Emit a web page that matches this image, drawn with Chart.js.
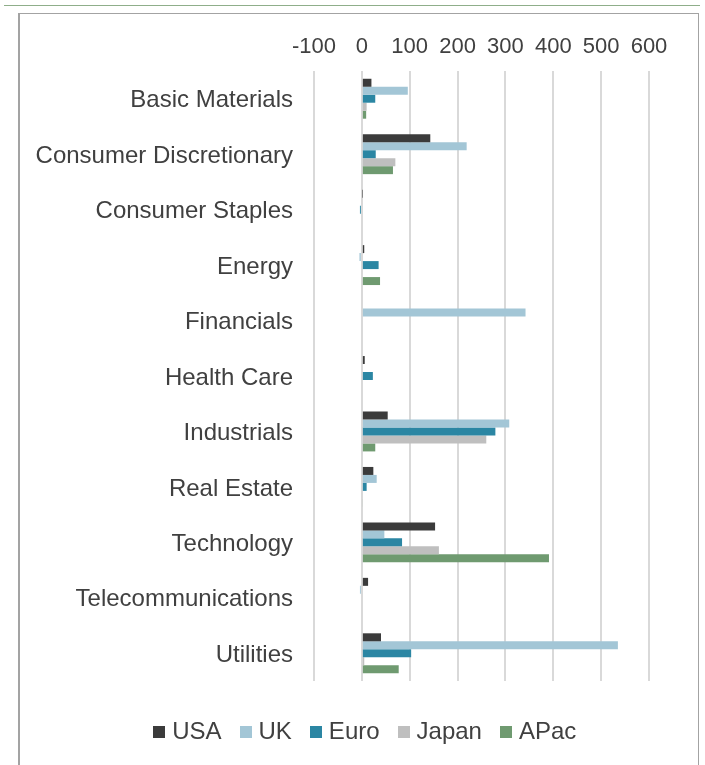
<!DOCTYPE html>
<html>
<head>
<meta charset="utf-8">
<title>Sector contributions by region</title>
<script src="https://cdn.jsdelivr.net/npm/chart.js@4"></script>
<style>
  html, body { margin: 0; padding: 0; background: #ffffff; }
  body { width: 705px; height: 765px; position: relative; overflow: hidden; }
  #rule { position: absolute; left: 4px; top: 5px; width: 696px; height: 1px; background: #8fae8a; }
  #frame { position: absolute; left: 18px; top: 13px; width: 678px; height: 760px;
           border-top: 1px solid #a3a3a3; border-right: 1px solid #a3a3a3; border-left: 2px solid #a3a3a3; }
  #wrap { position: absolute; left: 0; top: 0; width: 705px; height: 765px; }
</style>
</head>
<body>
<div id="rule"></div>
<div id="frame"></div>
<div id="wrap"><canvas id="chart" width="705" height="765"></canvas></div>
<script>
// Sectors, top to bottom
const sectors = ['Basic Materials', 'Consumer Discretionary', 'Consumer Staples', 'Energy',
  'Financials', 'Health Care', 'Industrials', 'Real Estate', 'Technology',
  'Telecommunications', 'Utilities'];

// Values per region, one entry per sector
const usa   = [20, 143, 1, 5, 0, 6, 54, 24, 153, 13, 40];
const uk    = [96, 219, 0, -5, 342, 0, 308, 31, 47, -4, 535];
const euro  = [28, 29, -4, 35, 0, 23, 279, 10, 84, 0, 103];
const japan = [10, 70, 0, 0, 0, 0, 260, 0, 161, 0, 5];
const apac  = [9, 65, 0, 38, 0, 0, 28, 2, 391, 0, 77];

// Value axis ticks
const axisMin = -100;
const axisMax = 600;
const axisStep = 100;

const regionNames = ['USA', 'UK', 'Euro', 'Japan', 'APac'];
const regionColours = ['#3b3b3b', '#a3c6d6', '#2b86a3', '#bfbfbf', '#6f9a70'];
const regionValues = [usa, uk, euro, japan, apac];

const TEXT = '#404040';
Chart.defaults.font.family = '"Liberation Sans", Arial, sans-serif';
Chart.defaults.color = TEXT;

// Small square swatches for the legend
function swatch(colour) {
  const c = document.createElement('canvas');
  c.width = 12; c.height = 12;
  const g = c.getContext('2d');
  g.fillStyle = colour;
  g.fillRect(0, 0, 12, 12);
  return c;
}
const swatches = regionColours.map(swatch);

const datasets = regionNames.map((name, i) => ({
  label: name,
  data: regionValues[i],
  xAxisID: 'x',
  yAxisID: 'y',
  backgroundColor: regionColours[i],
  borderWidth: 0,
  categoryPercentage: 0.72,
  barPercentage: 1.0
}));

// Empty spacer axes keep the plot area where it belongs while the
// legend row stays centred under the bars.
const spacer = size => ({
  type: 'linear',
  display: true,
  afterFit: s => { if (s.isHorizontal()) { s.height = size; } else { s.width = size; } },
  ticks: { display: false },
  grid: { display: false },
  border: { display: false }
});

new Chart(document.getElementById('chart'), {
  type: 'bar',
  data: { labels: sectors, datasets },
  options: {
    indexAxis: 'y',
    responsive: false,
    animation: false,
    layout: { padding: { left: 20, right: -9.5, top: 20, bottom: 11 } },
    scales: {
      x: {
        position: 'top',
        min: axisMin,
        max: axisMax,
        afterFit: s => { s.height = 51; },
        ticks: { stepSize: axisStep, autoSkip: false, maxRotation: 0, padding: 11,
                 font: { size: 22 }, color: TEXT },
        grid: { color: '#d9d9d9', lineWidth: 2, drawTicks: false },
        border: { display: false }
      },
      y: {
        type: 'category',
        afterFit: s => { s.width = 294; },
        ticks: { padding: 21, labelOffset: 2, font: { size: 24 }, color: TEXT, autoSkip: false },
        grid: { display: false, drawTicks: false },
        border: { display: false }
      },
      gapBottom: Object.assign(spacer(16), { position: 'bottom' }),
      gapRight: Object.assign(spacer(65.5), { position: 'right' })
    },
    plugins: {
      tooltip: { enabled: false },
      legend: {
        position: 'bottom',
        labels: {
          font: { size: 24 },
          color: TEXT,
          padding: 23,
          usePointStyle: true,
          boxWidth: 2,
          boxHeight: 12,
          generateLabels: chart => Chart.defaults.plugins.legend.labels.generateLabels(chart)
            .map((item, i) => Object.assign(item, { pointStyle: swatches[i] }))
        }
      }
    }
  }
});
</script>
</body>
</html>
